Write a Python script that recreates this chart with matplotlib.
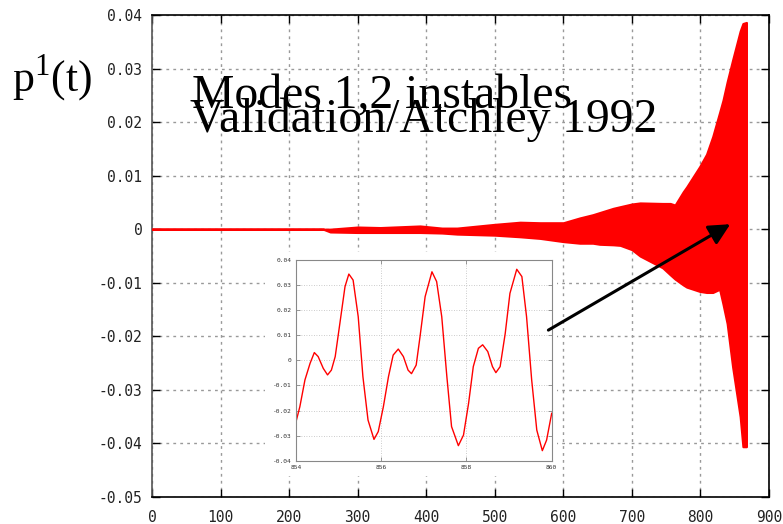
import matplotlib
matplotlib.use('Agg')
import matplotlib.pyplot as plt
from matplotlib.patches import Rectangle, FancyArrowPatch

# envelope of the pressure signal p1(t)
t_env = [0, 250, 260, 300, 333, 391, 423, 445, 500, 537, 566, 600, 624, 643, 653,
         673, 683, 700, 712, 745, 756, 763, 775, 780, 799, 809, 818, 828, 833, 839,
         847, 858, 862, 867]
p_upper = [0, 0, 0.0000, 0.0004, 0.0003, 0.0006, 0.0002, 0.0002, 0.0009, 0.0013,
           0.0012, 0.0012, 0.0021, 0.0027, 0.0031, 0.0039, 0.0042, 0.0047, 0.0049,
           0.0048, 0.0048, 0.0045, 0.0070, 0.0079, 0.0117, 0.0140, 0.0173, 0.0218,
           0.0241, 0.0275, 0.0316, 0.0370, 0.0384, 0.0386]
p_lower = [0, 0, -0.0005, -0.0006, -0.0006, -0.0006, -0.0007, -0.0009, -0.0011,
           -0.0014, -0.0017, -0.0023, -0.0026, -0.0026, -0.0028, -0.0029, -0.0030,
           -0.0038, -0.0050, -0.0072, -0.0085, -0.0093, -0.0104, -0.0108, -0.0116,
           -0.0118, -0.0118, -0.0112, -0.0140, -0.0176, -0.0257, -0.0350, -0.0406,
           -0.0406]

# zoom on 854 < t < 860
t_zoom = [854.00, 854.09, 854.21, 854.33, 854.43, 854.52, 854.64, 854.74, 854.83,
          854.92, 855.03, 855.15, 855.24, 855.34, 855.46, 855.57, 855.69, 855.83,
          855.93, 856.05, 856.17, 856.28, 856.40, 856.52, 856.63, 856.71, 856.82,
          856.91, 857.03, 857.19, 857.30, 857.42, 857.54, 857.65, 857.81, 857.93,
          858.05, 858.16, 858.28, 858.38, 858.50, 858.61, 858.69, 858.79, 858.91,
          859.02, 859.18, 859.30, 859.41, 859.53, 859.65, 859.78, 859.88, 860.00]
p_zoom = [-0.0245, -0.0185, -0.0078, -0.0012, 0.0031, 0.0015, -0.0032, -0.0058,
          -0.0039, 0.0015, 0.0148, 0.0294, 0.0344, 0.0320, 0.0174, -0.0065, -0.0238,
          -0.0315, -0.0284, -0.0185, -0.0065, 0.0021, 0.0045, 0.0015, -0.0039,
          -0.0053, -0.0019, 0.0094, 0.0254, 0.0353, 0.0314, 0.0174, -0.0065, -0.0264,
          -0.0340, -0.0298, -0.0171, -0.0025, 0.0048, 0.0062, 0.0035, -0.0025,
          -0.0049, -0.0025, 0.0108, 0.0267, 0.0363, 0.0334, 0.0174, -0.0078, -0.0278,
          -0.0360, -0.0318, -0.0211]

main_xticks = [0, 100, 200, 300, 400, 500, 600, 700, 800, 900]
main_yticks = [-0.05, -0.04, -0.03, -0.02, -0.01, 0, 0.01, 0.02, 0.03, 0.04]
zoom_xticks = [854, 856, 858, 860]
zoom_yticks = [-0.04, -0.03, -0.02, -0.01, 0, 0.01, 0.02, 0.03, 0.04]

W, H = 783, 524


def fx(px):
    return px / W


def fy(py):
    return 1 - py / H


def fmt(v):
    return '0' if v == 0 else f'{v:.2f}'


mono = 'DejaVu Sans Mono'
serif = 'Liberation Serif'
plt.rcParams['mathtext.fontset'] = 'custom'
plt.rcParams['mathtext.rm'] = serif

fig = plt.figure(figsize=(7.83, 5.24), dpi=100)
ax = fig.add_axes([fx(152), fy(497), fx(769) - fx(152), fy(15) - fy(497)])
ax.set_zorder(0)
ax.fill_between(t_env, p_lower, p_upper, color='#ff0000', lw=1.6, zorder=3)
ax.set_xlim(0, 900)
ax.set_ylim(-0.05, 0.04)
ax.set_xticks(main_xticks)
ax.set_yticks(main_yticks)
ax.set_xticklabels([str(v) for v in main_xticks], family=mono, fontsize=10.5, color='#222')
ax.set_yticklabels([fmt(v) for v in main_yticks], family=mono, fontsize=10.5, color='#222')
ax.tick_params(direction='in', length=6, width=1, top=True, right=True, color='black')
ax.tick_params(axis='x', pad=9)
ax.tick_params(axis='y', pad=7)
ax.grid(True, color='#999999', linestyle=(0, (2, 3)), linewidth=1)
for s in ax.spines.values():
    s.set_linewidth(1.2)
ax.spines['left'].set_color('#555555')

# white card behind the zoomed picture
fig.add_artist(Rectangle((fx(265), fy(476)), fx(557) - fx(265), fy(252) - fy(476),
                         transform=fig.transFigure, facecolor='white', edgecolor='none', zorder=1))

ins = fig.add_axes([fx(296), fy(460.7), fx(551.7) - fx(296), fy(260) - fy(460.7)])
ins.set_zorder(2)
ins.plot(t_zoom, p_zoom, color='#ff0000', lw=1.0)
ins.set_xlim(854, 860)
ins.set_ylim(-0.04, 0.04)
ins.set_xticks(zoom_xticks)
ins.set_yticks(zoom_yticks)
ins.set_xticklabels([str(v) for v in zoom_xticks], family=mono, fontsize=4.5, color='#333')
ins.set_yticklabels([fmt(v) for v in zoom_yticks], family=mono, fontsize=4.5, color='#333')
ins.tick_params(direction='in', length=3, width=0.6, top=True, right=True, color='#888', pad=3)
ins.grid(True, color='#bbbbbb', linestyle=(0, (1, 2)), linewidth=0.6)
for s in ins.spines.values():
    s.set_color('#888888')
    s.set_linewidth(0.8)

# arrow from the zoom to the end of the signal
arrow = FancyArrowPatch((574.7, -0.0191), (847, 0.0012), transform=ax.transData,
                        arrowstyle='-|>,head_length=8,head_width=4', mutation_scale=1.6,
                        color='black', lw=2.2, zorder=5)
fig.add_artist(arrow)

fig.text(fx(192), fy(108), 'Modes 1,2 instables', family=serif, fontsize=34.3,
         va='baseline', ha='left', zorder=6)
fig.text(fx(190), fy(131.7), 'Validation/Atchley 1992', family=serif, fontsize=34.3,
         va='baseline', ha='left', zorder=6)

fig.text(fx(12.5), fy(91.7), r'p$^{\mathrm{1}}$(t)', family=serif, fontsize=31.5,
         va='baseline', ha='left', zorder=6)

fig.savefig('out.png', dpi=100)
